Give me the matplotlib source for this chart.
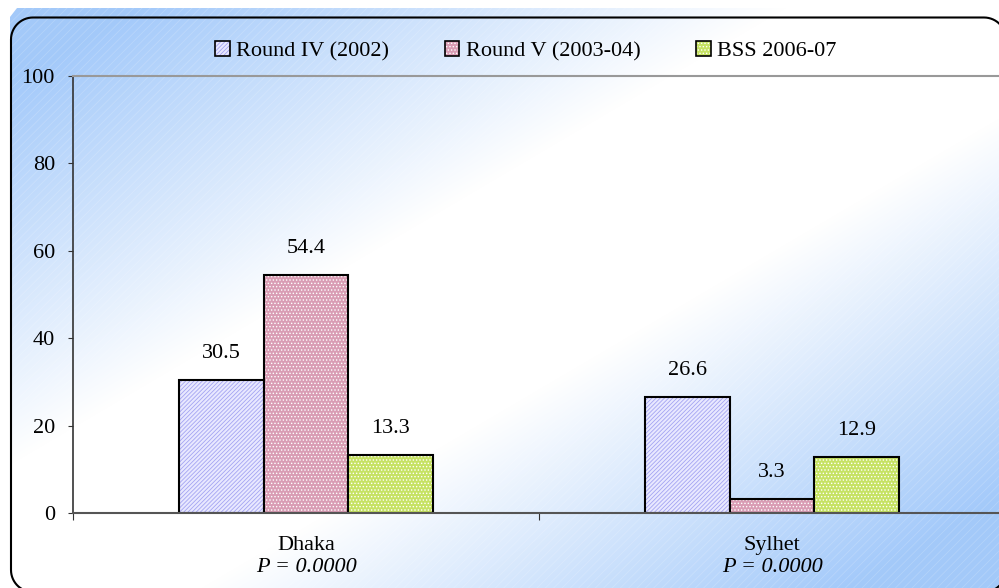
import matplotlib
matplotlib.use('Agg')
import matplotlib.pyplot as plt
import numpy as np
from matplotlib.patches import Patch, Polygon, PathPatch
from matplotlib.path import Path

plt.rcParams['font.family'] = 'Liberation Serif'
plt.rcParams['hatch.linewidth'] = 0.6

# Data
regions = ['Dhaka', 'Sylhet']
p_values = ['P = 0.0000', 'P = 0.0000']
series = ['Round IV (2002)', 'Round V (2003-04)', 'BSS 2006-07']
round_iv = [30.5, 26.6]
round_v = [54.4, 3.3]
bss = [13.3, 12.9]
y_ticks = [0, 20, 40, 60, 80, 100]

# Bar styles
fills = ['#E8E8FF', '#D99DB4', '#C6E263']
hatch_colors = ['#A4A4F2', 'white', 'white']
hatches = ['////////', '.....', '.....']


def rounded_frame(x0, y0, x1, y1, r, n=16):
    # closed outline of a rectangle with circular corners (pixel units)
    pts = []
    for cx, cy, a0 in [(x1 - r, y1 - r, 0), (x0 + r, y1 - r, 90),
                       (x0 + r, y0 + r, 180), (x1 - r, y0 + r, 270)]:
        t = np.radians(np.linspace(a0, a0 + 90, n))
        pts += list(zip(cx + r * np.cos(t), cy + r * np.sin(t)))
    pts.append(pts[0])
    return Path(pts)


fig = plt.figure(figsize=(9.99, 5.88), dpi=100)
fig.set_facecolor('white')

# Background panel: diagonal blue-white-blue gradient with a rounded frame
bg = fig.add_axes([0, 0, 1, 1])
yy, xx = np.mgrid[0:588, 0:999]
d = np.abs(xx / 999 + yy / 588 - 1)
blend = np.clip((d - 0.2) / 0.65, 0, 1)
blue = np.array([0.64, 0.79, 0.98])
img = 1 - blend[..., None] * (1 - blue)
im = bg.imshow(img, extent=(0, 999, 0, 588), origin='upper', interpolation='bilinear', aspect='auto')
panel = [(10, 571), (17, 580), (1010, 580), (1010, -5), (10, -5)]
im.set_clip_path(Polygon(panel, closed=True, transform=bg.transData))
bg.add_patch(Polygon(panel, closed=True, facecolor='none', edgecolor=(1, 1, 1, 0.18),
                     hatch='////', linewidth=0))
bg.add_patch(PathPatch(rounded_frame(11, -4, 1006, 570.5, 22), fill=False,
                       edgecolor='black', linewidth=1.5))
bg.set_xlim(0, 999)
bg.set_ylim(0, 588)
bg.axis('off')

# Generate the bar chart
ax = fig.add_axes([73 / 999, 1 - 513 / 588, 932 / 999, 437 / 588])
ax.patch.set_visible(False)

x = np.arange(len(regions))
width = 0.182
offsets = [-width, 0, width]
handles = []
for i, vals in enumerate([round_iv, round_v, bss]):
    ax.bar(x + offsets[i], vals, width, color=fills[i], hatch=hatches[i],
           edgecolor=hatch_colors[i], linewidth=0)
    bars = ax.bar(x + offsets[i], vals, width, facecolor='none', edgecolor='black', linewidth=1.5)
    for rect, v in zip(bars, vals):
        ax.annotate('%.1f' % v, (rect.get_x() + rect.get_width() / 2, v),
                    xytext=(0, 19), textcoords='offset points',
                    ha='center', va='center', fontsize=16)
    handles.append((Patch(facecolor=fills[i], hatch=hatches[i], edgecolor=hatch_colors[i], linewidth=0),
                    Patch(facecolor='none', edgecolor='black', linewidth=1.2)))

ax.set_xlim(-0.5, 1.5)
ax.set_ylim(0, 100)
ax.set_yticks(y_ticks)
ax.set_xticks([-0.5, 0.5, 1.5])
ax.set_xticklabels([])
ax.tick_params(axis='y', length=3.6, pad=9.4, labelsize=16, color='#333333')
ax.tick_params(axis='x', length=5, color='#333333')

ax.spines['right'].set_visible(False)
ax.spines['left'].set_color('#333333')
ax.spines['left'].set_linewidth(1.2)
ax.spines['bottom'].set_color('#555555')
ax.spines['bottom'].set_linewidth(1.5)
ax.spines['top'].set_color('#999999')
ax.spines['top'].set_linewidth(1.5)

# Category labels with p-values underneath
for i, (name, p) in enumerate(zip(regions, p_values)):
    ax.text(i, -0.074, name, transform=ax.get_xaxis_transform(),
            ha='center', va='center', fontsize=16)
    ax.text(i, -0.124, p, transform=ax.get_xaxis_transform(),
            ha='center', va='center', fontsize=16, style='italic')

fig.legend(handles, series, loc='center', bbox_to_anchor=(526 / 999, 1 - 51 / 588),
           ncol=3, frameon=False, fontsize=16, handlelength=0.65, handleheight=0.65,
           handletextpad=0.3, columnspacing=2.5)

fig.savefig('out.png', dpi=100, facecolor='white')
